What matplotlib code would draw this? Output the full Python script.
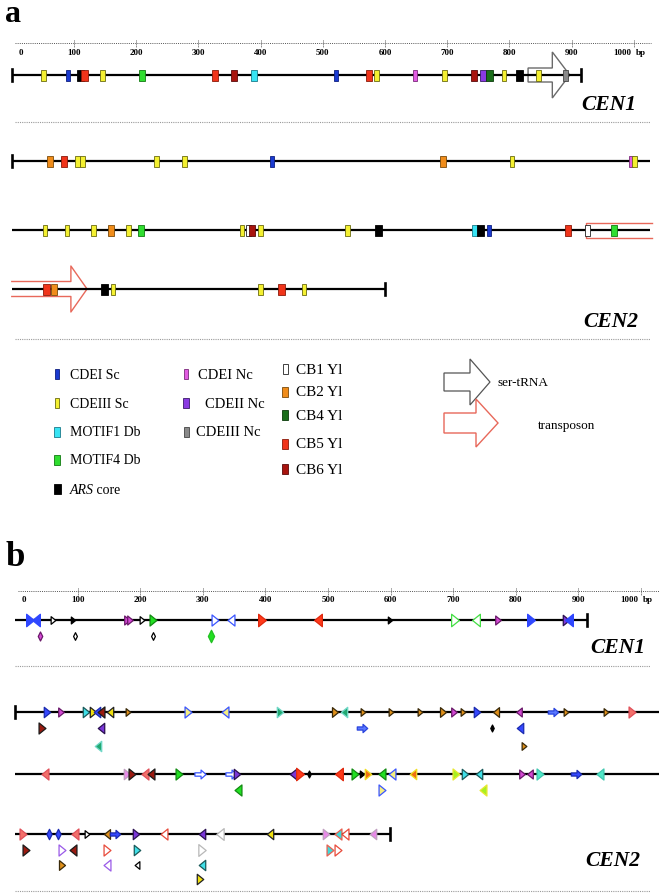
import matplotlib
matplotlib.use("Agg")
import matplotlib.pyplot as plt
from matplotlib.patches import Rectangle, Polygon
from matplotlib.path import Path
from matplotlib.lines import Line2D

plt.rcParams['font.family'] = ['Liberation Serif', 'DejaVu Serif']

W, H = 659, 895

# ======================= DATA =======================
ruler_ticks = [0, 100, 200, 300, 400, 500, 600, 700, 800, 900, 1000]
ruler_labels = ['0', '100', '200', '300', '400', '500', '600', '700', '800', '900', '1000']

# ---- panel a : motif boxes (bp position, motif) ----
a_cen1 = [(51, 'CDEIII Sc'), (91, 'CDEI Sc'), (110, 'ARS core'), (117, 'CB5 Yl'),
          (146, 'CDEIII Sc'), (209, 'MOTIF4 Db'), (327, 'CB5 Yl'), (357, 'CB6 Yl'),
          (390, 'MOTIF1 Db'), (521, 'CDEI Sc'), (574, 'CB5 Yl'), (586, 'CDEIII Sc'),
          (649, 'CDEI Nc'), (696, 'CDEIII Sc'), (743, 'CB6 Yl'), (758, 'CDEII Nc'),
          (768, 'CB4 Yl'), (791, 'CDEIII Sc'), (816, 'ARS core'), (847, 'CDEIII Sc'),
          (890, 'CDEIII Nc')]
a_cen1_len = 915
a_cen1_trna = (830, 897)

a_cen2_row1 = [(61, 'CB2 Yl'), (84, 'CB5 Yl'), (106, 'CDEIII Sc'), (114, 'CDEIII Sc'),
               (233, 'CDEIII Sc'), (278, 'CDEIII Sc'), (418, 'CDEI Sc'), (693, 'CB2 Yl'),
               (804, 'CDEIII Sc'), (995, 'CDEI Nc'), (1001, 'CDEIII Sc')]
a_cen2_row2 = [(53, 'CDEIII Sc'), (89, 'CDEIII Sc'), (131, 'CDEIII Sc'), (160, 'CB2 Yl'),
               (188, 'CDEIII Sc'), (208, 'MOTIF4 Db'), (370, 'CDEIII Sc'), (381, 'CB1 Yl'),
               (386, 'CB6 Yl'), (400, 'CDEIII Sc'), (540, 'CDEIII Sc'), (589, 'ARS core'),
               (745, 'MOTIF1 Db'), (754, 'ARS core'), (768, 'CDEI Sc'), (894, 'CB5 Yl'),
               (925, 'CB1 Yl'), (968, 'MOTIF4 Db')]
a_cen2_row3 = [(56, 'CB5 Yl'), (68, 'CB2 Yl'), (149, 'ARS core'), (163, 'CDEIII Sc'),
               (400, 'CDEIII Sc'), (434, 'CB5 Yl'), (470, 'CDEIII Sc')]
a_cen2_row_ends = [1026, 1026, 600]
a_cen2_transposon = (923, 121)   # starts on row 2, ends (arrow tip) on row 3

legend_col1 = ['CDEI Sc', 'CDEIII Sc', 'MOTIF1 Db', 'MOTIF4 Db', 'ARS core']
legend_col2 = ['CDEI Nc', 'CDEII Nc', 'CDEIII Nc']
legend_col3 = ['CB1 Yl', 'CB2 Yl', 'CB4 Yl', 'CB5 Yl', 'CB6 Yl']
legend_arrows = ['ser-tRNA', 'transposon']

# ---- panel b : oriented motifs (bp position, direction, motif class) ----
b_cen1_len = 914
b_cen1_top = [(24, '>', 'blue_big'), (34, '<', 'blue_big'), (61, '>', 'black_h'), (93, '>', 'black'),
              (179, '>', 'magenta'), (184, '>', 'magenta'), (203, '>', 'black_h'), (220, '>', 'green'),
              (319, '>', 'blue_h'), (345, '<', 'blue_h'), (395, '>', 'red'), (484, '<', 'red'),
              (599, '>', 'black'), (703, '>', 'green_h'), (736, '<', 'green_h'), (772, '>', 'magenta'),
              (824, '>', 'blue_big'), (880, '>', 'purple'), (885, '<', 'blue_big')]
b_cen1_sub = [(40, 'd', 'magenta'), (96, 'd', 'black_h'), (220, 'd', 'black_h'), (313, 'd', 'green_big')]

b_cen2_row1 = [(51, '>', 'blue'), (73, '>', 'magenta'), (113, '>', 'cyan'), (125, '>', 'yellow'),
               (131, '<', 'blue'), (137, '<', 'darkred'), (152, '<', 'yellow'), (181, '>', 'orange_s'),
               (276, '>', 'blue_y'), (335, '<', 'blue_y'), (423, '>', 'teal'), (511, '>', 'orange'),
               (526, '<', 'teal'), (556, '>', 'orange_s'), (601, '>', 'orange_s'), (647, '>', 'orange_s'),
               (684, '>', 'orange'), (701, '>', 'magenta'), (716, '>', 'orange_s'), (738, '>', 'blue'),
               (768, '<', 'orange'), (805, '<', 'magenta'), (859, 'a', 'blue_arr'), (880, '>', 'orange_s'),
               (944, '>', 'orange_s'), (986, '>', 'salmon')]
b_cen2_row1_sub1 = [(43, '>', 'darkred'), (137, '<', 'purple'), (554, 'a', 'blue_arr'),
                    (762, 'd', 'black'), (807, '<', 'blue')]
b_cen2_row1_sub2 = [(133, '<', 'teal'), (813, '>', 'orange_s')]

b_cen2_row2 = [(48, '<', 'salmon'), (179, '>', 'pink'), (187, '>', 'darkred'), (208, '<', 'salmon'),
               (217, '<', 'darkred'), (262, '>', 'green'), (296, 'a', 'blue_h'), (345, 'a', 'blue_h'),
               (355, '>', 'purple'), (444, '<', 'purple'), (455, '>', 'red'), (470, 'd', 'black'),
               (518, '<', 'red'), (543, '>', 'green'), (554, '>', 'black'), (564, '>', 'orange_y'),
               (586, '<', 'green'), (602, '<', 'blue_y'), (636, '<', 'orange_y'), (704, '>', 'yellowgreen'),
               (719, '>', 'cyan'), (741, '<', 'cyan'), (810, '>', 'magenta'), (823, '<', 'magenta'),
               (839, '>', 'aqua'), (896, 'a', 'blue'), (935, '<', 'aqua')]
b_cen2_row2_sub1 = [(356, '<', 'green'), (586, '>', 'blue_y'), (748, '<', 'yellowgreen')]

b_cen2_row3 = [(13, '>', 'salmon'), (54, 'd', 'blue'), (69, 'd', 'blue'), (96, '<', 'salmon'),
               (115, '>', 'black_h'), (147, '<', 'orange'), (160, 'a', 'blue'), (193, '>', 'purple'),
               (238, '<', 'red_h'), (299, '<', 'purple'), (327, '<', 'gray_h'), (407, '<', 'yellow'),
               (497, '>', 'pink'), (516, '<', 'cyan_s'), (527, '<', 'red_h'), (572, '<', 'pink')]
b_cen2_row3_sub1 = [(18, '>', 'darkred'), (75, '>', 'purple_h'), (93, '<', 'darkred'), (147, '>', 'red_h'),
                    (195, '>', 'cyan'), (299, '>', 'gray_h'), (503, '>', 'cyan_s'), (516, '>', 'red_h')]
b_cen2_row3_sub2 = [(75, '>', 'orange'), (147, '<', 'purple_h'), (195, '<', 'black_h'), (299, '<', 'cyan')]
b_cen2_row3_sub3 = [(296, '>', 'yellow')]
b_cen2_row_ends = [1030, 1030, 599]

# ======================= STYLES =======================
BOX = {  # face, edge, width(px)
    'CDEI Sc': ('#1a3ad0', '#0e1f80', 4),
    'CDEIII Sc': ('#f4f030', '#6a6a10', 4.5),
    'MOTIF1 Db': ('#38e4f4', '#1a7a8a', 6),
    'MOTIF4 Db': ('#30dd30', '#127a12', 6),
    'ARS core': ('#000000', '#000000', 7),
    'CDEI Nc': ('#e25ce2', '#7a2a7a', 4),
    'CDEII Nc': ('#8a3ae2', '#3a1a6a', 6),
    'CDEIII Nc': ('#8a8a8a', '#444444', 5),
    'CB1 Yl': ('#ffffff', '#222222', 5),
    'CB2 Yl': ('#f08c1a', '#7a4a0a', 6),
    'CB4 Yl': ('#1a6e1a', '#0a3a0a', 6.5),
    'CB5 Yl': ('#f0341a', '#8a1a0a', 6.5),
    'CB6 Yl': ('#a8140e', '#5a0a0a', 5.5),
}
TRI = {  # face, edge, marker size (pt)
    'blue': ('#3548ff', '#1a2ab0', 7.5), 'blue_big': ('#2f47ff', '#2f47ff', 9),
    'blue_h': ('#ffffff', '#3a55ff', 8), 'blue_y': ('#f4ee80', '#3a55ff', 8),
    'blue_arr': ('#5a78ff', '#2a44dd', 7.5),
    'red': ('#ff3a1a', '#e0280e', 9), 'red_h': ('#ffffff', '#e84a3a', 8),
    'salmon': ('#f2706a', '#e0505a', 8),
    'green': ('#22e022', '#118a11', 8), 'green_big': ('#22e022', '#22c022', 9),
    'green_h': ('#ffffff', '#44dd44', 9),
    'magenta': ('#d64ad6', '#6a1a6a', 6.5), 'pink': ('#e889e8', '#c0a0c0', 7.5),
    'purple': ('#7a36d8', '#2a1050', 7.5), 'purple_h': ('#ffffff', '#9a5ae8', 8),
    'black': ('#000000', '#000000', 5), 'black_h': ('#ffffff', '#000000', 5.5),
    'orange': ('#e0901a', '#3a2a0a', 7), 'orange_s': ('#e0901a', '#3a2a0a', 5.5),
    'orange_y': ('#f07010', '#f0e020', 7.5),
    'darkred': ('#9a1a10', '#1a1a1a', 8), 'cyan': ('#40e0e8', '#1a5a5a', 7.5),
    'teal': ('#22a870', '#70d8c8', 7.5), 'aqua': ('#50e8c8', '#40c8b0', 8),
    'yellow': ('#f0e010', '#222222', 7.5), 'yellowgreen': ('#a8f020', '#e8e830', 8),
    'gray_h': ('#ffffff', '#b8b8b8', 8.5), 'cyan_s': ('#40d8d8', '#e86050', 8),
}

def _path(verts):
    codes = [Path.MOVETO] + [Path.LINETO] * (len(verts) - 1) + [Path.CLOSEPOLY]
    return Path(verts + [verts[0]], codes)

MARK = {
    '>': _path([(-0.62, -1.0), (0.62, 0.0), (-0.62, 1.0)]),
    '<': _path([(0.62, -1.0), (-0.62, 0.0), (0.62, 1.0)]),
    'd': _path([(0.0, -1.0), (0.5, 0.0), (0.0, 1.0), (-0.5, 0.0)]),
    'a': _path([(-1.0, -0.3), (0.1, -0.3), (0.1, -0.8), (1.0, 0.0), (0.1, 0.8), (0.1, 0.3), (-1.0, 0.3)]),
}

# ======================= FIGURE =======================
fig = plt.figure(figsize=(W / 100, H / 100), dpi=100)

lay = fig.add_axes([0, 0, 1, 1])
lay.set_xlim(0, W); lay.set_ylim(H, 0); lay.axis('off')

A0, AS = 11.8, 0.622   # panel a: pixel of 0 bp, px per bp
B0, BS = 15.0, 0.626   # panel b
axA = fig.add_axes([0, 0, 1, 1]); axA.set_xlim(-A0 / AS, (W - A0) / AS); axA.set_ylim(H, 0); axA.axis('off')
axB = fig.add_axes([0, 0, 1, 1]); axB.set_xlim(-B0 / BS, (W - B0) / BS); axB.set_ylim(H, 0); axB.axis('off')

LINE_LW = 1.6

def backbone(ax, y, start, end, tick_start=False, tick_end=False):
    ax.plot([start, end], [y, y], color='black', lw=LINE_LW, solid_capstyle='butt', zorder=2)
    for flag, x in ((tick_start, start), (tick_end, end)):
        if flag:
            ax.plot([x, x], [y - 6, y + 6], color='black', lw=1.9, zorder=2)

def boxes(ax, scale, y, feats):
    for pos, kind in feats:
        fc, ec, wpx = BOX[kind]
        w = wpx / scale
        ax.add_patch(Rectangle((pos - w / 2, y - 5.5), w, 11, fc=fc, ec=ec, lw=0.6, zorder=5))

def tris(ax, y, feats):
    for pos, d, kind in feats:
        fc, ec, ms = TRI[kind]
        ax.plot([pos], [y], ls='none', marker=MARK[d], ms=ms, mfc=fc, mec=ec, mew=0.9, zorder=5)

def ruler(ax, y, ylab):
    ax.plot([5, 1028], [y, y], color='#555555', lw=0.7, ls=(0, (1, 1.2)), zorder=1)
    for t, lab in zip(ruler_ticks, ruler_labels):
        if t > 0:
            ax.plot([t, t], [y - 3.5, y + 3.5], color='#555555', lw=0.7, ls=(0, (1, 1)))
        if t == 0:
            ax.text(t + 14, ylab, lab, ha='center', va='center', fontsize=6.5, fontweight='bold')
        elif t == 1000:
            ax.text(t - 4, ylab, lab, ha='right', va='center', fontsize=6.5, fontweight='bold')
            ax.text(t + 3, ylab, 'bp', ha='left', va='center', fontsize=6.5, fontweight='bold')
        else:
            ax.text(t, ylab, lab, ha='center', va='center', fontsize=6.5, fontweight='bold')

def sep(y):
    lay.plot([15, 650], [y, y], color='#9a9a9a', lw=0.8, ls=(0, (1, 1)))

def block_arrow(ax, x0, x1, y, body, head, hlen, color, fc='none', open_left=False, lw=1.0, z=1):
    hs = x1 - hlen
    pts = [(x0, y - body), (hs, y - body), (hs, y - head), (x1, y), (hs, y + head), (hs, y + body), (x0, y + body)]
    if open_left:
        xs, ys = zip(*pts)
        ax.plot(xs, ys, color=color, lw=lw, zorder=z)
    else:
        ax.add_patch(Polygon(pts, closed=True, fc=fc, ec=color, lw=lw, zorder=z))

# ---------------- panel a ----------------
lay.text(5, 22, 'a', fontsize=23, fontweight='bold', ha='left', va='baseline')
ruler(axA, 44, 53)

yC1 = 76
block_arrow(axA, a_cen1_trna[0], a_cen1_trna[1], yC1, 7, 23, 28, '#6a6a6a', z=1)
backbone(axA, yC1, 0, a_cen1_len, True, True)
boxes(axA, AS, yC1, a_cen1)
lay.text(636, 110, 'CEN1', fontsize=15.5, fontweight='bold', style='italic', ha='right', va='baseline')
sep(123)

rows_a = [(162, a_cen2_row1), (231, a_cen2_row2), (290, a_cen2_row3)]
# transposon (spans rows 2 -> 3)
tcol = '#e8685a'
tp_start, tp_end = a_cen2_transposon
axA.plot([a_cen2_row_ends[1] + 4, tp_start, tp_start, a_cen2_row_ends[1] + 4],
         [231 - 7.5, 231 - 7.5, 231 + 7.5, 231 + 7.5], color=tcol, lw=1.0, zorder=1)
block_arrow(axA, 0, tp_end, 290, 7.5, 23, 26, tcol, open_left=True)
for i, (y, feats) in enumerate(rows_a):
    backbone(axA, y, 0, a_cen2_row_ends[i], tick_start=(i == 0), tick_end=(i == 2))
    boxes(axA, AS, y, feats)
lay.text(638, 327, 'CEN2', fontsize=15.5, fontweight='bold', style='italic', ha='right', va='baseline')
sep(340)

# ---------------- legend ----------------
def leg_box(x, y, kind, text, tx, fs):
    fc, ec, wpx = BOX[kind]
    lay.add_patch(Rectangle((x - wpx / 2, y - 5), wpx, 10, fc=fc, ec=ec, lw=0.6))
    if kind == 'ARS core':
        lay.text(tx, y, 'ARS', fontsize=fs, style='italic', ha='left', va='center')
        lay.text(tx + 23, y, ' core', fontsize=fs, ha='left', va='center')
    else:
        lay.text(tx, y, text, fontsize=fs, ha='left', va='center')

for k, y in zip(legend_col1, [375, 404, 433, 461, 490]):
    leg_box(57, y, k, k, 70, 10)
for k, y, tx in zip(legend_col2, [375, 404, 433], [198, 205, 196]):
    leg_box(186, y, k, k, tx, 10.5)
for k, y in zip(legend_col3, [370, 393, 416, 445, 470]):
    leg_box(285, y, k, k, 296, 11)

block_arrow(lay, 444, 490, 383, 9, 23, 20, '#555555', fc='white', lw=0.9)
lay.text(497, 383, legend_arrows[0], fontsize=9.5, ha='left', va='center')
block_arrow(lay, 444, 498, 424, 10, 24, 22, '#e8685a', fc='white', lw=1.0)
lay.text(538, 426, legend_arrows[1], fontsize=9.5, ha='left', va='center')

# ---------------- panel b ----------------
lay.text(5, 566, 'b', fontsize=25, fontweight='bold', ha='left', va='baseline')
ruler(axB, 592, 600)

yb1 = 621
backbone(axB, yb1, 0, b_cen1_len, False, True)
tris(axB, yb1, b_cen1_top)
tris(axB, 637, b_cen1_sub)
lay.text(645, 653, 'CEN1', fontsize=15.5, fontweight='bold', style='italic', ha='right', va='baseline')
sep(667)

backbone(axB, 713, 0, b_cen2_row_ends[0], True, False)
tris(axB, 713, b_cen2_row1)
tris(axB, 729, b_cen2_row1_sub1)
tris(axB, 747, b_cen2_row1_sub2)

backbone(axB, 775, 0, b_cen2_row_ends[1], False, False)
tris(axB, 775, b_cen2_row2)
tris(axB, 791, b_cen2_row2_sub1)

backbone(axB, 835, 0, b_cen2_row_ends[2], False, True)
tris(axB, 835, b_cen2_row3)
tris(axB, 851, b_cen2_row3_sub1)
tris(axB, 866, b_cen2_row3_sub2)
tris(axB, 880, b_cen2_row3_sub3)
lay.text(640, 866, 'CEN2', fontsize=15.5, fontweight='bold', style='italic', ha='right', va='baseline')
sep(892)

fig.savefig('out.png', dpi=100)
